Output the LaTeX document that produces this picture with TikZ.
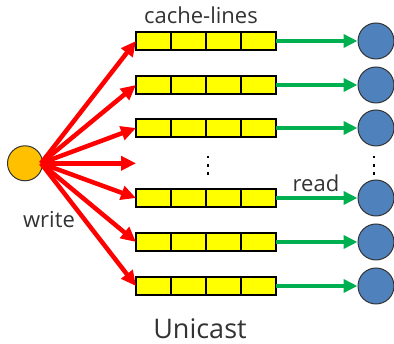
\documentclass[tikz,border=0pt]{standalone}
\usepackage{fontspec}
\setmainfont{Open Sans}
\usetikzlibrary{arrows.meta}
\definecolor{cyel}{HTML}{FFFF00}
\definecolor{cblue}{HTML}{4F81BD}
\definecolor{corange}{HTML}{FFC000}
\definecolor{cgreen}{HTML}{00B050}
\definecolor{cred}{HTML}{FF0000}
\definecolor{ctext}{HTML}{333333}
\begin{document}
\begin{tikzpicture}[x=1pt,y=-1pt,
  cell/.style={draw=black,line width=1.4pt,fill=cyel,minimum width=35pt,minimum height=18pt,inner sep=0pt,outer sep=0pt},
  reader/.style={circle,draw=black!80,line width=1pt,fill=cblue,minimum size=36pt,inner sep=0pt},
  writer/.style={circle,draw=black!80,line width=1pt,fill=corange,minimum size=35pt,inner sep=0pt},
  warrow/.style={draw=cred,line width=4.5pt,-{Triangle[length=15pt,width=14pt]}},
  rarrow/.style={draw=cgreen,line width=4pt,-{Triangle[length=14pt,width=13pt]}},
  lbl/.style={text=ctext,font=\fontsize{22}{24}\selectfont,inner sep=0pt},
  dot/.style={fill=black,inner sep=0pt,minimum size=2.5pt,rectangle}]
\useasboundingbox (0,0) rectangle (394,344);
\node[writer] (W) at (25,163.3) {};
\coordinate (Ws) at (41,163.3);
\foreach \i/\y in {1/41,2/85,3/128,4/198,5/242,6/286}{
  \node[cell] (L\i a) at (153.5,\y) {};
  \node[cell] (L\i b) at (188.5,\y) {};
  \node[cell] (L\i c) at (223.5,\y) {};
  \node[cell] (L\i d) at (258.5,\y) {};
  \node[reader] (R\i) at (376,\y) {};
  \draw[rarrow] (L\i d.east) -- (R\i.west);
  \draw[warrow] (Ws) -- (L\i a.west);
}
\coordinate (M) at (136,163.3);
\draw[warrow] (Ws) -- (M);
\foreach \x in {208,374}{
  \foreach \y in {157,165.3,173.7}{
    \node[dot] at (\x,\y) {};
  }
}
\node[lbl] (cl) at (201,15) {cache-lines};
\node[lbl] (wr) at (49,220) {write};
\node[lbl] (rd) at (316,183) {read};
\node[text=ctext,font=\fontsize{27}{30}\selectfont,inner sep=0pt] (uc) at (200,329) {Unicast};
\end{tikzpicture}
\end{document}
